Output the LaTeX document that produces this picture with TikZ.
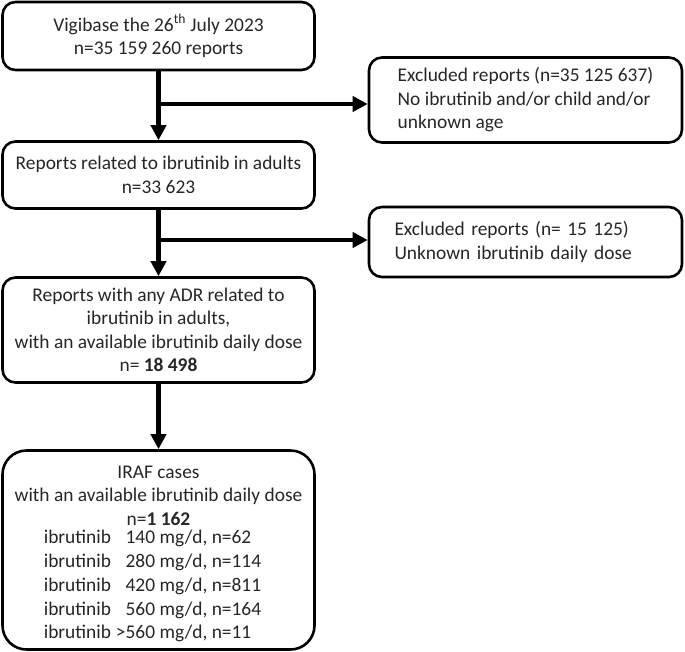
\documentclass[tikz,border=0pt]{standalone}
\usepackage{fontspec}
\setmainfont{Carlito}
\usetikzlibrary{arrows.meta}
\definecolor{txt}{HTML}{262626}
\tikzset{
  box/.style={draw=black, line width=2.6pt, rounded corners=13pt, text=txt, align=center,
    font=\fontsize{19.4}{23.5}\selectfont, inner sep=0pt},
  conn/.style={line width=4.6pt, draw=black, -{Triangle[length=15pt,width=15pt]}},
}
\begin{document}
\begin{tikzpicture}[x=1pt,y=-1pt]
\useasboundingbox (0,0) rectangle (685,651);
\node[box, minimum width=312pt, minimum height=68pt] (b1) at (158.5,36)
  {Vigibase the 26\textsuperscript{th} July 2023\\n=35 159 260 reports};
\node[box, minimum width=313pt, minimum height=85pt, align=left] (e1) at (525.5,100)
  {Excluded reports (n=35 125 637)\\No ibrutinib and/or child and/or\\unknown age};
\node[box, minimum width=312pt, minimum height=67pt] (b2) at (158.5,175)
  {Reports related to ibrutinib in adults\\n=33 623};
\node[box, minimum width=313pt, minimum height=70pt, align=left, text width=262pt] (e2) at (525.5,242)
  {Excluded reports (n= 15 125)\\Unknown ibrutinib daily dose};
\node[box, minimum width=312pt, minimum height=105pt] (b3) at (158.5,330)
  {Reports with any ADR related to\\ibrutinib in adults,\\with an available ibrutinib daily dose\\n= \textbf{18 498}};
\node[box, rounded corners=24pt, minimum width=312pt, minimum height=199pt] (b4) at (158.5,550)
  {\rule{0pt}{24pt}IRAF cases\\with an available ibrutinib daily dose\\n=\textbf{1 162}\\[1pt]
   \hspace*{-12pt}\renewcommand{\arraystretch}{1.01}\begin{tabular}{@{}l@{\hspace{5pt}}r@{ }l@{}}
   ibrutinib & 140 & mg/d, n=62\\
   ibrutinib & 280 & mg/d, n=114\\
   ibrutinib & 420 & mg/d, n=811\\
   ibrutinib & 560 & mg/d, n=164\\
   ibrutinib & >560 & mg/d, n=11
   \end{tabular}};
\coordinate (j1) at (b1.south |- 0,104);
\coordinate (j2) at (b2.south |- 0,240);
\draw[conn] (b1.south) -- (b2.north);
\draw[conn] (j1) -- (e1.west |- j1);
\draw[conn] (b2.south) -- (b3.north);
\draw[conn] (j2) -- (e2.west |- j2);
\draw[conn] (b3.south) -- (b4.north);
\end{tikzpicture}
\end{document}
